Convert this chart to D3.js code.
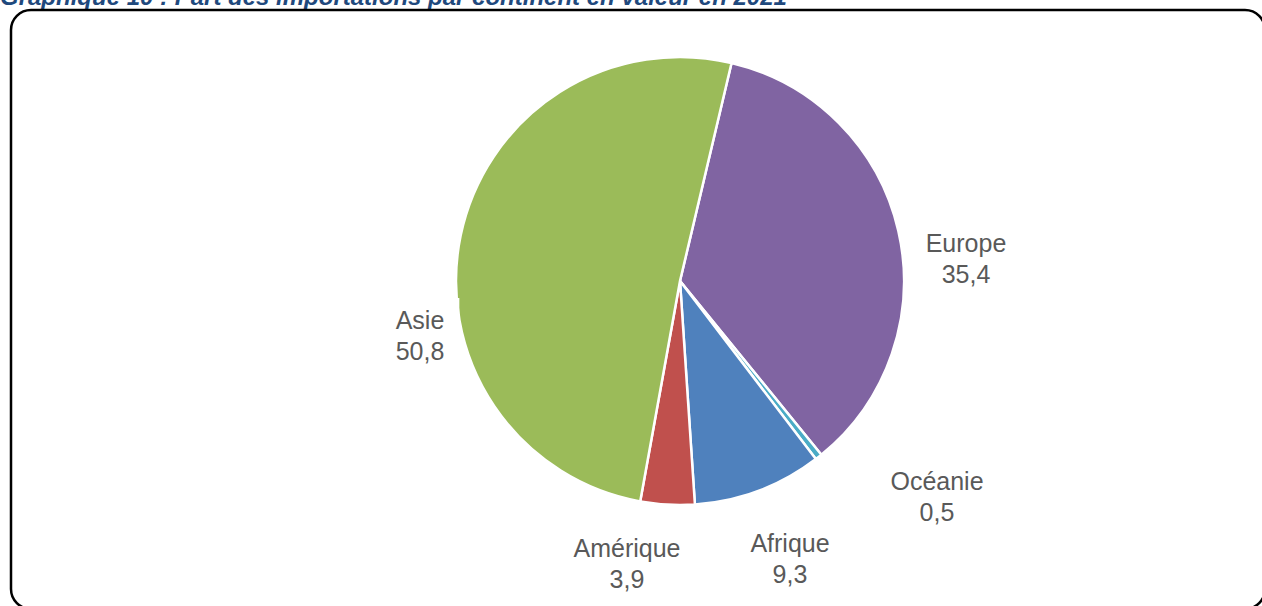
<!DOCTYPE html>
<html>
<head>
<meta charset="utf-8">
<script src="https://cdn.jsdelivr.net/npm/d3@7"></script>
<style>
  html, body { margin: 0; padding: 0; background: #fff; }
  svg { display: block; }
  text { font-family: "Liberation Sans", Arial, sans-serif; }
</style>
</head>
<body>
<div id="chart"></div>
<script>
    // Part des importations par continent (en %)
    var continents = ["Europe", "Océanie", "Afrique", "Amérique", "Asie"];
    var shares = [35.4, 0.5, 9.3, 3.9, 50.8];
    var shareLabels = ["35,4", "0,5", "9,3", "3,9", "50,8"];
    var colors = ["#8064A2", "#4BACC6", "#4F81BD", "#C0504D", "#9BBB59"];

    var width = 1262, height = 606;
    var cx = 680, cy = 281, radius = 224;

    // label anchor points (centre x, baseline of first line)
    var labelPos = {
        "Europe":   [966, 252],
        "Océanie":  [937, 490],
        "Afrique":  [790, 552],
        "Amérique": [627, 557],
        "Asie":     [420, 329]
    };

    var svg = d3.select("#chart").append("svg")
        .attr("width", width)
        .attr("height", height);

    // title, clipped at the top of the picture like in the source
    svg.append("text")
        .attr("x", 0)
        .attr("y", 5)
        .attr("fill", "#1F497D")
        .style("font-weight", "bold")
        .style("font-style", "italic")
        .style("font-size", "24px")
        .text("Graphique 10 : Part des importations par continent en valeur en 2021");

    // frame (runs past the right and bottom edges)
    svg.append("rect")
        .attr("x", 11)
        .attr("y", 10)
        .attr("width", 1254)
        .attr("height", 599)
        .attr("rx", 20)
        .attr("fill", "none")
        .attr("stroke", "#000")
        .attr("stroke-width", 2.5);

    var data = continents.map(function (c, i) {
        return {name: c, value: shares[i], label: shareLabels[i], color: colors[i]};
    });

    var pie = d3.pie()
        .sort(null)
        .value(function (d) { return d.value; })
        .startAngle(13.3 * Math.PI / 180)
        .endAngle(13.3 * Math.PI / 180 + 2 * Math.PI);

    var arc = d3.arc().innerRadius(0).outerRadius(radius);

    var g = svg.append("g").attr("transform", "translate(" + cx + "," + cy + ")");

    g.selectAll("path")
        .data(pie(data))
        .enter().append("path")
        .attr("d", arc)
        .attr("fill", function (d) { return d.data.color; })
        .attr("stroke", "#fff")
        .attr("stroke-width", 2.5)
        .attr("stroke-linejoin", "round");

    var labels = svg.append("g").selectAll("g")
        .data(data)
        .enter().append("g");

    labels.each(function (d) {
        var p = labelPos[d.name];
        var sel = d3.select(this);
        var t = sel.append("text")
            .attr("text-anchor", "middle")
            .attr("fill", "#595959")
            .style("font-size", "25px");
        t.append("tspan").attr("x", p[0]).attr("y", p[1]).text(d.name);
        t.append("tspan").attr("x", p[0]).attr("y", p[1] + 31).text(d.label);
        // Asie label has a white box that bites into the pie edge
        if (d.name === "Asie") {
            var bb = t.node().getBBox();
            sel.insert("rect", "text")
                .attr("x", bb.x - 10)
                .attr("y", bb.y - 8)
                .attr("width", bb.width + 25)
                .attr("height", bb.height + 12)
                .attr("fill", "#fff");
        }
    });
</script>
</body>
</html>
